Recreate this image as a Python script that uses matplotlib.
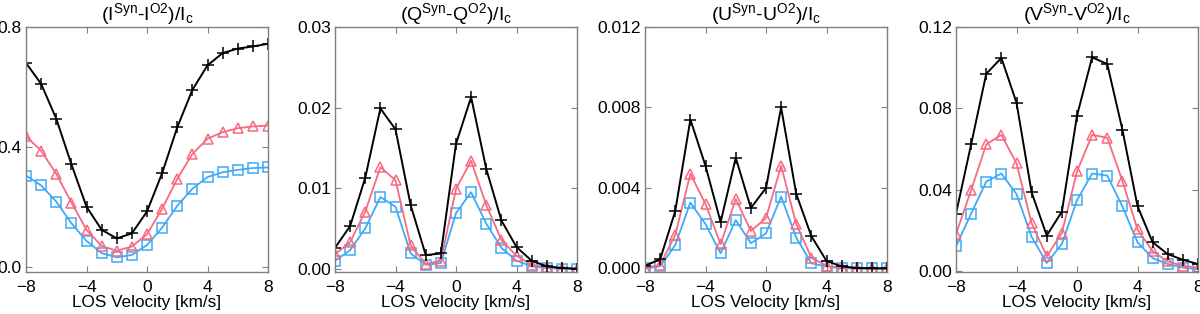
import numpy as np
from matplotlib import pyplot as plt

plt.rcParams['font.family'] = ['Liberation Sans', 'DejaVu Sans']
plt.rcParams['mathtext.default'] = 'regular'

v = np.arange(-8, 9)

# (I^Syn - I^O2)/Ic
i_black = [0.68, 0.61, 0.494, 0.342, 0.20, 0.123, 0.094, 0.111, 0.184, 0.312, 0.465, 0.59, 0.672, 0.713, 0.728, 0.735, 0.744]
i_red = [0.435, 0.387, 0.31, 0.214, 0.123, 0.069, 0.053, 0.067, 0.108, 0.193, 0.293, 0.376, 0.427, 0.449, 0.462, 0.468, 0.471]
i_blue = [0.304, 0.271, 0.217, 0.145, 0.086, 0.045, 0.031, 0.039, 0.072, 0.13, 0.203, 0.26, 0.299, 0.315, 0.323, 0.329, 0.331]

# (Q^Syn - Q^O2)/Ic
q_black = [0.0026, 0.0053, 0.0113, 0.0199, 0.0173, 0.0079, 0.0017, 0.0019, 0.0155, 0.0213, 0.0124, 0.006, 0.0027, 0.001, 0.0003, 0.0001, 0.0]
q_red = [0.0018, 0.0033, 0.0071, 0.0126, 0.011, 0.0029, 0.0006, 0.001, 0.0099, 0.0134, 0.0079, 0.0036, 0.0016, 0.0005, 0.0002, 0.0001, 0.0]
q_blue = [0.001, 0.0023, 0.005, 0.0089, 0.0077, 0.0019, 0.0005, 0.0007, 0.0069, 0.0095, 0.0056, 0.0026, 0.001, 0.0003, 0.0001, 0.0, 0.0]

# (U^Syn - U^O2)/Ic
u_black = [0.00013, 0.00045, 0.00285, 0.0074, 0.0051, 0.0023, 0.0055, 0.003, 0.004, 0.008, 0.0037, 0.0016, 0.00037, 0.0001, 0.00002, 0.0, 0.0]
u_red = [0.00003, 0.00017, 0.00166, 0.0047, 0.0032, 0.0012, 0.00345, 0.00186, 0.0025, 0.0051, 0.0022, 0.00053, 0.00013, 0.00003, 0.0, 0.0, 0.0]
u_blue = [0.0, 0.0001, 0.00116, 0.00327, 0.0022, 0.00075, 0.0024, 0.00125, 0.00174, 0.00357, 0.00153, 0.00025, 0.0001, 0.0, 0.0, 0.0, 0.0]

# (V^Syn - V^O2)/Ic
w_black = [0.0283, 0.0623, 0.097, 0.1048, 0.0828, 0.0387, 0.0175, 0.0293, 0.0764, 0.1051, 0.1018, 0.0696, 0.032, 0.0142, 0.0084, 0.0056, 0.0035]
w_red = [0.0183, 0.0398, 0.0623, 0.067, 0.053, 0.0235, 0.0073, 0.0188, 0.049, 0.067, 0.0656, 0.0445, 0.0205, 0.0098, 0.0048, 0.0026, 0.0018]
w_blue = [0.0122, 0.0283, 0.044, 0.048, 0.0379, 0.0169, 0.004, 0.0134, 0.0349, 0.048, 0.047, 0.0318, 0.0142, 0.0064, 0.0035, 0.0018, 0.001]

titles = ['(I$^{Syn}$-I$^{O2}$)/I$_c$', '(Q$^{Syn}$-Q$^{O2}$)/I$_c$',
          '(U$^{Syn}$-U$^{O2}$)/I$_c$', '(V$^{Syn}$-V$^{O2}$)/I$_c$']
data = [(i_black, i_red, i_blue), (q_black, q_red, q_blue),
        (u_black, u_red, u_blue), (w_black, w_red, w_blue)]
yticks = [[0.0, 0.4, 0.8], [0.0, 0.01, 0.02, 0.03],
          [0.0, 0.004, 0.008, 0.012], [0.0, 0.04, 0.08, 0.12]]
yfmt = ['%.1f', '%.2f', '%.3f', '%.2f']
ylims = [(-0.018, 0.8), (-0.0004, 0.03), (-0.00018, 0.012), (-0.0004, 0.12)]
lefts = [26, 335, 645, 956]

red = '#f76a80'
blue = '#3fa9f5'
frame = '#808080'

fig = plt.figure(figsize=(12, 3.14), dpi=100)
for k in range(4):
    ax = fig.add_axes([lefts[k] / 1200, 42 / 314, 242 / 1200, 245 / 314])
    blk, rd, bl = data[k]
    ax.plot(v, bl, color=blue, lw=1.3, marker='s', ms=7, mfc='none', mew=1.1)
    ax.plot(v, rd, color=red, lw=1.3, marker='^', ms=7.5, mfc='none', mew=1.1)
    ax.plot(v, blk, color='black', lw=1.4, marker='+', ms=8, mew=1.1)
    ax.set_xlim(-8, 8)
    ax.set_ylim(*ylims[k])
    ax.set_xticks([-8, -4, 0, 4, 8])
    ax.set_yticks(yticks[k])
    ax.set_yticklabels([yfmt[k] % t for t in yticks[k]])
    ax.tick_params(direction='in', length=4, width=0.8, color=frame,
                   top=True, right=True, labelsize=12.5)
    ax.tick_params(axis='x', pad=6)
    ax.tick_params(axis='y', pad=3)
    for s in ax.spines.values():
        s.set_color(frame)
        s.set_linewidth(1.0)
    ax.set_title(titles[k], fontsize=14, pad=5)
    ax.set_xlabel('LOS Velocity [km/s]', fontsize=12.3, labelpad=0)

plt.savefig('out.png', dpi=100)
